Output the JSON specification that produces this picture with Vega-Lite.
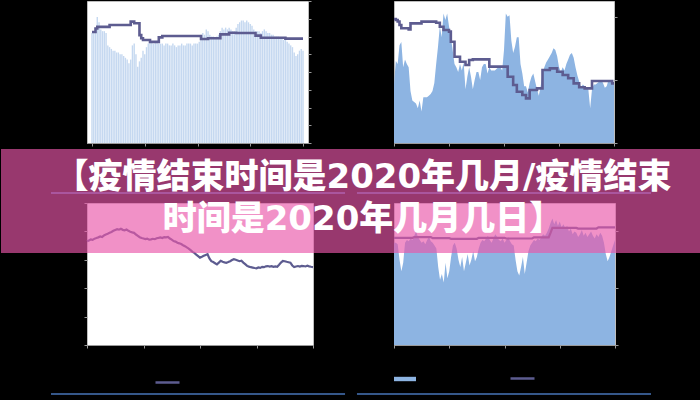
{
  "$schema": "https://vega.github.io/schema/vega-lite/v6.json",
  "background": "#000000",
  "padding": {"left": 0, "top": 0, "right": 0, "bottom": 6},
  "config": {
    "view": {"stroke": "#bdbdbd", "fill": "#ffffff"},
    "axis": {"labels": false, "labelOverlap": false, "grid": false, "domainColor": "#9a9a9a", "tickColor": "#9a9a9a", "tickSize": 3, "domainWidth": 1, "tickWidth": 1},
    "legend": {"padding": 0}
  },
  "datasets": {
    "tl": [
      {"i":0,"v":62,"s":62.5},{"i":1,"v":63,"s":62.5},{"i":2,"v":64,"s":64.5},{"i":3,"v":71,"s":65.4},{"i":4,"v":68,"s":65.4},{"i":5,"v":64,"s":65.4},{"i":6,"v":63,"s":65.4},{"i":7,"v":63,"s":65.4},{"i":8,"v":62,"s":65.4},{"i":9,"v":55,"s":65.4},
      {"i":10,"v":54,"s":66.5},{"i":11,"v":53,"s":66.5},{"i":12,"v":52,"s":66.5},{"i":13,"v":52,"s":66.5},{"i":14,"v":51,"s":66.5},{"i":15,"v":51,"s":66.5},{"i":16,"v":50,"s":66.5},{"i":17,"v":50,"s":66.5},{"i":18,"v":49,"s":66.5},{"i":19,"v":48,"s":66.5},
      {"i":20,"v":47,"s":66.5},{"i":21,"v":45,"s":66.5},{"i":22,"v":47,"s":68.4},{"i":23,"v":55,"s":68.4},{"i":24,"v":56,"s":67.5},{"i":25,"v":50,"s":67.5},{"i":26,"v":43,"s":67.5},{"i":27,"v":46,"s":60.8},{"i":28,"v":48,"s":59},{"i":29,"v":52,"s":58},
      {"i":30,"v":50,"s":58},{"i":31,"v":54,"s":58},{"i":32,"v":56,"s":58},{"i":33,"v":57,"s":57},{"i":34,"v":57,"s":57},{"i":35,"v":56,"s":57},{"i":36,"v":57,"s":57},{"i":37,"v":57,"s":57},{"i":38,"v":56,"s":59.5},{"i":39,"v":56,"s":59.5},
      {"i":40,"v":56,"s":60.3},{"i":41,"v":55,"s":60.3},{"i":42,"v":56,"s":60.3},{"i":43,"v":56,"s":60.3},{"i":44,"v":55,"s":60.3},{"i":45,"v":55,"s":60.3},{"i":46,"v":56,"s":60.3},{"i":47,"v":55,"s":60.3},{"i":48,"v":54,"s":60.3},{"i":49,"v":55,"s":60.3},
      {"i":50,"v":55,"s":60.3},{"i":51,"v":56,"s":60.3},{"i":52,"v":55,"s":60.3},{"i":53,"v":55,"s":60.3},{"i":54,"v":56,"s":60.3},{"i":55,"v":56,"s":60.3},{"i":56,"v":56,"s":60.3},{"i":57,"v":55,"s":60.3},{"i":58,"v":56,"s":60.3},{"i":59,"v":56,"s":60.3},
      {"i":60,"v":56,"s":60.3},{"i":61,"v":57,"s":60.3},{"i":62,"v":61,"s":58.6},{"i":63,"v":62,"s":58.6},{"i":64,"v":61,"s":58.6},{"i":65,"v":64,"s":58.6},{"i":66,"v":63,"s":59},{"i":67,"v":61,"s":59},{"i":68,"v":60,"s":59},{"i":69,"v":60,"s":59},
      {"i":70,"v":59,"s":59},{"i":71,"v":60,"s":59},{"i":72,"v":61,"s":59},{"i":73,"v":63,"s":61.2},{"i":74,"v":65,"s":61.2},{"i":75,"v":64,"s":61.2},{"i":76,"v":65,"s":61.2},{"i":77,"v":64,"s":61.2},{"i":78,"v":65,"s":62.1},{"i":79,"v":64,"s":62.1},
      {"i":80,"v":63,"s":62.1},{"i":81,"v":63,"s":62.1},{"i":82,"v":65,"s":62},{"i":83,"v":67,"s":62},{"i":84,"v":68,"s":62},{"i":85,"v":69,"s":62},{"i":86,"v":69,"s":62},{"i":87,"v":68,"s":62},{"i":88,"v":69,"s":62},{"i":89,"v":68,"s":62},
      {"i":90,"v":67,"s":62},{"i":91,"v":66,"s":62},{"i":92,"v":64,"s":62},{"i":93,"v":63,"s":60.5},{"i":94,"v":63,"s":60.5},{"i":95,"v":63,"s":60.5},{"i":96,"v":62,"s":59.3},{"i":97,"v":63,"s":59.3},{"i":98,"v":64,"s":59.3},{"i":99,"v":63,"s":59.3},
      {"i":100,"v":62,"s":59.3},{"i":101,"v":62,"s":59.3},{"i":102,"v":61,"s":59.3},{"i":103,"v":61,"s":59.3},{"i":104,"v":60,"s":59.3},{"i":105,"v":60,"s":59.3},{"i":106,"v":60,"s":59.3},{"i":107,"v":59,"s":59.3},{"i":108,"v":59,"s":59.3},{"i":109,"v":58,"s":59.3},
      {"i":110,"v":58,"s":58.8},{"i":111,"v":57,"s":58.8},{"i":112,"v":56,"s":58.8},{"i":113,"v":55,"s":58.8},{"i":114,"v":54,"s":58.8},{"i":115,"v":51,"s":58.8},{"i":116,"v":49,"s":58.8},{"i":117,"v":50,"s":58.8},{"i":118,"v":52,"s":58.8},{"i":119,"v":53,"s":58.8},
      {"i":120,"v":52,"s":58.8}
    ],
    "tr": [
      {"i":0,"v":37,"s":78.6},{"i":1,"v":52,"s":78},{"i":2,"v":50,"s":77},{"i":3,"v":62,"s":74.8},{"i":4,"v":64,"s":72.7},{"i":5,"v":48,"s":72.7},{"i":6,"v":53,"s":72.7},{"i":7,"v":50,"s":72.7},{"i":8,"v":48,"s":72},{"i":9,"v":33,"s":75.8},
      {"i":10,"v":27,"s":75.8},{"i":11,"v":26,"s":75.8},{"i":12,"v":25,"s":75.8},{"i":13,"v":22,"s":75.8},{"i":14,"v":27,"s":75.8},{"i":15,"v":20,"s":76.9},{"i":16,"v":29,"s":76.9},{"i":17,"v":29,"s":76.9},{"i":18,"v":29,"s":76.9},{"i":19,"v":30,"s":76.9},
      {"i":20,"v":31,"s":76.9},{"i":21,"v":33,"s":76.9},{"i":22,"v":38,"s":76.9},{"i":23,"v":50,"s":76.2},{"i":24,"v":61,"s":76.2},{"i":25,"v":74,"s":73.7},{"i":26,"v":67,"s":73.7},{"i":27,"v":82,"s":71.6},{"i":28,"v":78,"s":71.6},{"i":29,"v":82,"s":71.6},
      {"i":30,"v":74,"s":70.6},{"i":31,"v":67,"s":64.2},{"i":32,"v":59,"s":64.2},{"i":33,"v":50,"s":54.7},{"i":34,"v":48,"s":54.7},{"i":35,"v":45,"s":54.7},{"i":36,"v":50,"s":51.5},{"i":37,"v":46,"s":51.5},{"i":38,"v":51,"s":51.5},{"i":39,"v":34,"s":49.4},
      {"i":40,"v":42,"s":49.4},{"i":41,"v":48,"s":52.6},{"i":42,"v":42,"s":52.6},{"i":43,"v":34,"s":53},{"i":44,"v":40,"s":53},{"i":45,"v":45,"s":53},{"i":46,"v":45,"s":53},{"i":47,"v":40,"s":53},{"i":48,"v":48,"s":53},{"i":49,"v":50,"s":53},
      {"i":50,"v":50,"s":53},{"i":51,"v":44,"s":53},{"i":52,"v":48,"s":48.4},{"i":53,"v":46,"s":48.4},{"i":54,"v":46,"s":48.4},{"i":55,"v":46,"s":48.4},{"i":56,"v":47,"s":48.4},{"i":57,"v":48,"s":48.4},{"i":58,"v":48,"s":48.4},{"i":59,"v":46,"s":48.4},
      {"i":60,"v":59,"s":48.4},{"i":61,"v":82,"s":48.4},{"i":62,"v":80,"s":42},{"i":63,"v":81,"s":42},{"i":64,"v":65,"s":42},{"i":65,"v":57,"s":36.8},{"i":66,"v":61,"s":36.8},{"i":67,"v":67,"s":32.5},{"i":68,"v":67,"s":32.5},{"i":69,"v":50,"s":32.5},
      {"i":70,"v":44,"s":30.4},{"i":71,"v":36,"s":30.4},{"i":72,"v":36,"s":28.3},{"i":73,"v":32,"s":28.3},{"i":74,"v":38,"s":33.6},{"i":75,"v":42,"s":33.6},{"i":76,"v":44,"s":33.6},{"i":77,"v":39,"s":33.6},{"i":78,"v":34,"s":34.6},{"i":79,"v":30,"s":34.6},
      {"i":80,"v":36,"s":34.6},{"i":81,"v":44,"s":46.3},{"i":82,"v":48,"s":46.3},{"i":83,"v":51,"s":46.3},{"i":84,"v":53,"s":46.3},{"i":85,"v":55,"s":47.3},{"i":86,"v":57,"s":47.3},{"i":87,"v":60,"s":47.3},{"i":88,"v":59,"s":47.3},{"i":89,"v":55,"s":45.2},
      {"i":90,"v":48,"s":45.2},{"i":91,"v":45,"s":45.2},{"i":92,"v":48,"s":43.1},{"i":93,"v":46,"s":43.1},{"i":94,"v":50,"s":43.1},{"i":95,"v":53,"s":41},{"i":96,"v":56,"s":41},{"i":97,"v":57,"s":41},{"i":98,"v":54,"s":37.8},{"i":99,"v":48,"s":37.8},
      {"i":100,"v":43,"s":37.8},{"i":101,"v":39,"s":35.3},{"i":102,"v":35,"s":35.3},{"i":103,"v":37,"s":35.3},{"i":104,"v":36,"s":34.6},{"i":105,"v":35,"s":34.6},{"i":106,"v":34,"s":34.6},{"i":107,"v":22,"s":34.6},{"i":108,"v":34,"s":39.3},{"i":109,"v":37,"s":39.3},
      {"i":110,"v":37,"s":39.3},{"i":111,"v":38,"s":39.3},{"i":112,"v":39,"s":39.3},{"i":113,"v":40,"s":39.3},{"i":114,"v":38,"s":39.3},{"i":115,"v":35,"s":39.3},{"i":116,"v":36,"s":39.3},{"i":117,"v":40,"s":39.3},{"i":118,"v":39,"s":39.3},{"i":119,"v":39,"s":37.8},
      {"i":120,"v":38,"s":37.8}
    ],
    "bl": [
      {"i":0,"s":73.0},{"i":1,"s":73.6},{"i":2,"s":74.4},{"i":3,"s":74.0},{"i":4,"s":74.9},{"i":5,"s":75.3},{"i":6,"s":75.8},{"i":7,"s":76.4},{"i":8,"s":76.0},{"i":9,"s":77.2},
      {"i":10,"s":77.8},{"i":11,"s":78.3},{"i":12,"s":79.0},{"i":13,"s":79.6},{"i":14,"s":80.4},{"i":15,"s":81.0},{"i":16,"s":81.6},{"i":17,"s":81.2},{"i":18,"s":81.8},{"i":19,"s":81.1},
      {"i":20,"s":80.8},{"i":21,"s":81.3},{"i":22,"s":80.4},{"i":23,"s":79.8},{"i":24,"s":79.3},{"i":25,"s":79.0},{"i":26,"s":77.8},{"i":27,"s":76.9},{"i":28,"s":75.9},{"i":29,"s":75.3},
      {"i":30,"s":75.0},{"i":31,"s":74.6},{"i":32,"s":74.9},{"i":33,"s":74.2},{"i":34,"s":74.4},{"i":35,"s":74.8},{"i":36,"s":74.5},{"i":37,"s":75.2},{"i":38,"s":75.4},{"i":39,"s":75.7},
      {"i":40,"s":75.3},{"i":41,"s":76.0},{"i":42,"s":75.8},{"i":43,"s":76.1},{"i":44,"s":75.0},{"i":45,"s":74.2},{"i":46,"s":73.2},{"i":47,"s":72.8},{"i":48,"s":72.0},{"i":49,"s":71.6},
      {"i":50,"s":71.1},{"i":51,"s":70.3},{"i":52,"s":69.6},{"i":53,"s":68.7},{"i":54,"s":67.9},{"i":55,"s":66.8},{"i":56,"s":65.6},{"i":57,"s":64.9},{"i":58,"s":63.7},{"i":59,"s":62.6},
      {"i":60,"s":61.5},{"i":61,"s":62.1},{"i":62,"s":62.8},{"i":63,"s":63.4},{"i":64,"s":63.9},{"i":65,"s":61.0},{"i":66,"s":59.0},{"i":67,"s":58.4},{"i":68,"s":57.6},{"i":69,"s":56.8},
      {"i":70,"s":58.0},{"i":71,"s":59.3},{"i":72,"s":58.6},{"i":73,"s":58.2},{"i":74,"s":57.9},{"i":75,"s":58.4},{"i":76,"s":59.0},{"i":77,"s":59.8},{"i":78,"s":60.4},{"i":79,"s":60.0},
      {"i":80,"s":59.5},{"i":81,"s":59.0},{"i":82,"s":59.3},{"i":83,"s":58.0},{"i":84,"s":56.9},{"i":85,"s":55.7},{"i":86,"s":55.2},{"i":87,"s":54.8},{"i":88,"s":54.5},{"i":89,"s":54.2},
      {"i":90,"s":54.0},{"i":91,"s":54.6},{"i":92,"s":54.3},{"i":93,"s":55.0},{"i":94,"s":54.8},{"i":95,"s":55.4},{"i":96,"s":55.6},{"i":97,"s":55.2},{"i":98,"s":55.5},{"i":99,"s":55.0},
      {"i":100,"s":55.3},{"i":101,"s":55.1},{"i":102,"s":56.5},{"i":103,"s":58.0},{"i":104,"s":59.2},{"i":105,"s":59.0},{"i":106,"s":58.6},{"i":107,"s":58.3},{"i":108,"s":58.0},{"i":109,"s":56.0},
      {"i":110,"s":54.9},{"i":111,"s":55.3},{"i":112,"s":55.6},{"i":113,"s":55.2},{"i":114,"s":55.7},{"i":115,"s":55.6},{"i":116,"s":55.3},{"i":117,"s":55.8},{"i":118,"s":55.4},{"i":119,"s":55.1},
      {"i":120,"s":54.9}
    ],
    "br": [
      {"i":0,"v":72,"s":75.5},{"i":1,"v":72,"s":75.5},{"i":2,"v":71,"s":75.5},{"i":3,"v":60,"s":75.5},{"i":4,"v":52,"s":75.5},{"i":5,"v":58,"s":75.5},{"i":6,"v":72,"s":75.5},{"i":7,"v":74,"s":75.5},{"i":8,"v":73,"s":75.5},{"i":9,"v":75,"s":75.5},
      {"i":10,"v":74,"s":75.5},{"i":11,"v":77,"s":76},{"i":12,"v":80,"s":76},{"i":13,"v":76,"s":76},{"i":14,"v":74,"s":76},{"i":15,"v":72,"s":76},{"i":16,"v":73,"s":76},{"i":17,"v":71,"s":76},{"i":18,"v":74,"s":76},{"i":19,"v":76,"s":76},
      {"i":20,"v":73,"s":76},{"i":21,"v":72,"s":75.2},{"i":22,"v":70,"s":75.2},{"i":23,"v":68,"s":75.2},{"i":24,"v":55,"s":75.2},{"i":25,"v":46,"s":75.2},{"i":26,"v":50,"s":75.2},{"i":27,"v":44,"s":75.2},{"i":28,"v":58,"s":75.2},{"i":29,"v":47,"s":75.2},
      {"i":30,"v":52,"s":75.2},{"i":31,"v":62,"s":74.8},{"i":32,"v":70,"s":74.8},{"i":33,"v":72,"s":74.8},{"i":34,"v":68,"s":74.8},{"i":35,"v":60,"s":74.8},{"i":36,"v":55,"s":74.8},{"i":37,"v":62,"s":74.8},{"i":38,"v":52,"s":74.8},{"i":39,"v":58,"s":74.8},
      {"i":40,"v":64,"s":74.8},{"i":41,"v":56,"s":74.8},{"i":42,"v":60,"s":74.8},{"i":43,"v":66,"s":74.8},{"i":44,"v":59,"s":74.8},{"i":45,"v":62,"s":74.8},{"i":46,"v":68,"s":75.5},{"i":47,"v":72,"s":75.5},{"i":48,"v":74,"s":75.5},{"i":49,"v":73,"s":75.5},
      {"i":50,"v":75,"s":75.5},{"i":51,"v":77,"s":75.5},{"i":52,"v":74,"s":75.5},{"i":53,"v":72,"s":75.5},{"i":54,"v":75,"s":75.5},{"i":55,"v":78,"s":75.5},{"i":56,"v":76,"s":75.5},{"i":57,"v":74,"s":75.5},{"i":58,"v":73,"s":75.5},{"i":59,"v":75,"s":75.5},
      {"i":60,"v":72,"s":75.5},{"i":61,"v":74,"s":75},{"i":62,"v":76,"s":75},{"i":63,"v":73,"s":75},{"i":64,"v":71,"s":75},{"i":65,"v":70,"s":75},{"i":66,"v":60,"s":75},{"i":67,"v":52,"s":75},{"i":68,"v":49,"s":75},{"i":69,"v":55,"s":75},
      {"i":70,"v":62,"s":75},{"i":71,"v":50,"s":75},{"i":72,"v":58,"s":75},{"i":73,"v":66,"s":75},{"i":74,"v":70,"s":75},{"i":75,"v":72,"s":75},{"i":76,"v":74,"s":75.8},{"i":77,"v":73,"s":75.8},{"i":78,"v":75,"s":75.8},{"i":79,"v":74,"s":75.8},
      {"i":80,"v":76,"s":75.8},{"i":81,"v":78,"s":75.8},{"i":82,"v":77,"s":75.8},{"i":83,"v":79,"s":75.8},{"i":84,"v":82,"s":75.8},{"i":85,"v":86,"s":79},{"i":86,"v":89,"s":82.5},{"i":87,"v":85,"s":82.5},{"i":88,"v":88,"s":82.5},{"i":89,"v":84,"s":82.5},
      {"i":90,"v":87,"s":82.5},{"i":91,"v":83,"s":82.5},{"i":92,"v":85,"s":82.5},{"i":93,"v":82,"s":82.5},{"i":94,"v":84,"s":82.5},{"i":95,"v":80,"s":82.5},{"i":96,"v":82,"s":82.5},{"i":97,"v":78,"s":82.5},{"i":98,"v":80,"s":82.5},{"i":99,"v":79,"s":82.5},
      {"i":100,"v":76,"s":82},{"i":101,"v":78,"s":82},{"i":102,"v":81,"s":82},{"i":103,"v":77,"s":82},{"i":104,"v":79,"s":82},{"i":105,"v":76,"s":82},{"i":106,"v":78,"s":82},{"i":107,"v":80,"s":82},{"i":108,"v":77,"s":82},{"i":109,"v":75,"s":82},
      {"i":110,"v":78,"s":82},{"i":111,"v":76,"s":82.8},{"i":112,"v":79,"s":82.8},{"i":113,"v":77,"s":82.8},{"i":114,"v":72,"s":82.8},{"i":115,"v":64,"s":82.8},{"i":116,"v":59,"s":82.8},{"i":117,"v":62,"s":82.8},{"i":118,"v":66,"s":82.8},{"i":119,"v":70,"s":82.8},
      {"i":120,"v":74,"s":82.8}
    ]
  },
  "spacing": 1,
  "vconcat": [
    {
      "spacing": 86,
      "bounds": "flush",
      "hconcat": [
        {
          "width": 221, "height": 142,
          "data": {"name": "tl"},
          "encoding": {"x": {"field": "i", "type": "quantitative", "scale": {"domain": [0, 120], "nice": false}, "axis": {"values": [0, 30, 60, 90, 120], "title": null}}},
          "resolve": {"axis": {"y": "independent"}},
          "layer": [
            {"mark": {"type": "bar", "width": 1.4, "color": "#c5d8f0"},
             "encoding": {"y": {"field": "v", "type": "quantitative", "scale": {"domain": [0, 80], "nice": false}, "axis": {"orient": "right", "values": [0, 10, 20, 30, 40, 50, 60, 70, 80], "domain": false, "title": null}}}},
            {"mark": {"type": "line", "interpolate": "step-after", "color": "#5d5c90", "strokeWidth": 2.6},
             "encoding": {"y": {"field": "s", "type": "quantitative", "axis": {"orient": "left", "offset": 85.5, "domain": true, "domainColor": "#000000", "ticks": false, "title": null}}}}
          ]
        },
        {
          "width": 220, "height": 142,
          "data": {"name": "tr"},
          "encoding": {"x": {"field": "i", "type": "quantitative", "scale": {"domain": [0, 120], "nice": false}, "axis": {"values": [0, 30, 60, 90, 120], "title": null}}},
          "layer": [
            {"mark": {"type": "area", "color": "#8db4e2"},
             "encoding": {"y": {"field": "v", "type": "quantitative", "scale": {"domain": [0, 90], "nice": false}, "axis": {"orient": "right", "values": [0, 10, 20, 30, 40, 50, 60, 70, 80, 90], "domain": false, "title": null}}}},
            {"mark": {"type": "line", "interpolate": "step-after", "color": "#5d5c90", "strokeWidth": 2.6},
             "encoding": {"y": {"field": "s", "type": "quantitative"}}}
          ]
        }
      ]
    },
    {
      "spacing": 81,
      "bounds": "flush",
      "resolve": {"scale": {"fill": "independent", "stroke": "independent"}},
      "hconcat": [
        {
          "width": 226, "height": 142,
          "data": {"name": "bl"},
          "mark": {"type": "line", "strokeWidth": 2.2},
          "encoding": {
            "x": {"field": "i", "type": "quantitative", "scale": {"domain": [0, 120], "nice": false}, "axis": {"values": [0, 30, 60, 90, 120], "title": null}},
            "y": {"field": "s", "type": "quantitative", "scale": {"domain": [0, 100], "nice": false}, "axis": {"orient": "left", "values": [0, 20, 40, 60, 80, 100], "domain": false, "title": null}},
            "stroke": {"datum": "B", "scale": {"range": ["#5d5c90"]}, "legend": {"orient": "none", "legendX": 67, "legendY": 166, "title": null, "symbolType": "stroke", "symbolSize": 576, "symbolStrokeWidth": 2.5, "labelExpr": "''"}}
          }
        },
        {
          "width": 221, "height": 142,
          "resolve": {"scale": {"x": "independent", "y": "independent"}},
          "layer": [
            {
              "data": {"name": "br"},
              "encoding": {"x": {"field": "i", "type": "quantitative", "scale": {"domain": [0, 120], "nice": false}, "axis": {"values": [0, 30, 60, 90, 120], "title": null}}},
              "layer": [
                {"mark": {"type": "area"},
                 "encoding": {
                   "y": {"field": "v", "type": "quantitative", "scale": {"domain": [0, 100], "nice": false}, "axis": {"orient": "right", "values": [0, 10, 20, 30, 40, 50, 60, 70, 80, 90, 100], "domain": false, "title": null}},
                   "fill": {"datum": "A", "scale": {"range": ["#8db4e2"]}, "legend": {"orient": "none", "legendX": 0, "legendY": 165, "title": null, "symbolType": "M-1,-0.2H1V0.2H-1Z", "symbolSize": 484, "symbolStrokeWidth": 0, "labelExpr": "''"}}
                 }},
                {"mark": {"type": "line", "strokeWidth": 2.2},
                 "encoding": {
                   "y": {"field": "s", "type": "quantitative"},
                   "stroke": {"datum": "B", "scale": {"range": ["#5d5c90"]}, "legend": {"orient": "none", "legendX": 115, "legendY": 162, "title": null, "symbolType": "stroke", "symbolSize": 576, "symbolStrokeWidth": 2.5, "labelExpr": "''"}}
                 }}
              ]
            },
            {
              "data": {"values": [{"frame": "left"}, {"frame": "right"}]},
              "mark": {"type": "rect", "color": "#35578a"},
              "encoding": {
                "x": {"field": "frame", "type": "nominal", "axis": null, "scale": {"type": "band", "range": [-343, 257], "paddingInner": 0.039, "paddingOuter": 0}},
                "y": {"datum": "frame", "type": "nominal", "axis": null, "scale": {"type": "band", "range": [190, 192], "paddingInner": 0, "paddingOuter": 0}}
              }
            },
            {
              "data": {"values": [{"frame": "left"}, {"frame": "right"}]},
              "mark": {"type": "rect", "color": "#35578a"},
              "encoding": {
                "x": {"field": "frame", "type": "nominal", "axis": null, "scale": {"type": "band", "range": [-343, 257], "paddingInner": 0.039, "paddingOuter": 0}},
                "y": {"datum": "frame", "type": "nominal", "axis": null, "scale": {"type": "band", "range": [-11, -9], "paddingInner": 0, "paddingOuter": 0}}
              }
            },
            {
              "data": {"values": [{"b": "banner"}]},
              "mark": {"type": "rect", "color": "#ea56a9", "opacity": 0.65},
              "encoding": {
                "x": {"field": "b", "type": "nominal", "axis": null, "scale": {"type": "band", "range": [-393, 307], "paddingInner": 0, "paddingOuter": 0}},
                "y": {"field": "b", "type": "nominal", "axis": null, "scale": {"type": "band", "range": [-54, 50], "paddingInner": 0, "paddingOuter": 0}}
              }
            },
            {
              "data": {"values": [
                {"b": "banner", "line": 1, "text": "【疫情结束时间是2020年几月/疫情结束"},
                {"b": "banner", "line": 2, "text": "时间是2020年几月几日】"}
              ]},
              "mark": {"type": "text", "font": "DejaVu Sans, Noto Sans CJK SC", "fontWeight": 900, "fontSize": 34, "color": "#ffffff", "dx": 12},
              "encoding": {
                "x": {"field": "b", "type": "nominal", "axis": null, "scale": {"type": "band", "range": [-393, 307], "paddingInner": 0, "paddingOuter": 0}},
                "y": {"field": "line", "type": "ordinal", "axis": null, "scale": {"type": "point", "range": [-54, 50], "padding": 0.738, "align": 0.46}},
                "text": {"field": "text"}
              }
            }
          ]
        }
      ]
    }
  ]
}
